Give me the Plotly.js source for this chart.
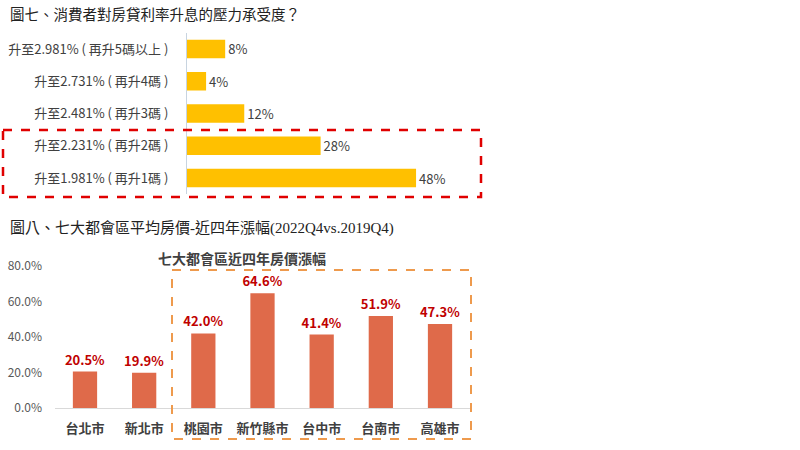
<!DOCTYPE html>
<html>
<head>
<meta charset="utf-8">
<script src="https://cdn.plot.ly/plotly-3.0.1.min.js"></script>
<style>html,body{margin:0;padding:0;background:#fff;}#chart{width:800px;height:450px;}</style>
</head>
<body>
<div id="chart"></div>
<script>
// Chart 1 (圖七)
const rateLabels = ['升至2.981% ( 再升5碼以上 )','升至2.731% ( 再升4碼 )','升至2.481% ( 再升3碼 )','升至2.231% ( 再升2碼 )','升至1.981% ( 再升1碼 )'];
const rateValues = [8, 4, 12, 28, 48];
// Chart 2 (圖八)
const cities = ['台北市','新北市','桃園市','新竹縣市','台中市','台南市','高雄市'];
const priceRise = [20.5, 19.9, 42.0, 64.6, 41.4, 51.9, 47.3];

const W = 800, H = 450;
const px = x => x / W, py = y => 1 - y / H;
const cjk = '"Noto Sans CJK TC", "Noto Sans", sans-serif';
const serif = '"Liberation Serif", "Noto Sans CJK TC", serif';

const traces = [
  {
    type: 'bar', orientation: 'h', x: rateValues, y: rateLabels,
    xaxis: 'x', yaxis: 'y', width: 0.57,
    marker: {color: '#FFC000'},
    text: rateValues.map(v => v + '%'), textposition: 'outside', constraintext: 'none',
    textfont: {family: cjk, size: 13, color: '#404040'},
    cliponaxis: false, hoverinfo: 'skip'
  },
  {
    type: 'bar', x: cities, y: priceRise,
    xaxis: 'x2', yaxis: 'y2', width: 0.41,
    marker: {color: '#DF6A4A'},
    texttemplate: '<b>%{y:.1f}%</b>', textposition: 'outside', constraintext: 'none',
    textfont: {family: cjk, size: 13, color: '#C00000'},
    cliponaxis: false, hoverinfo: 'skip'
  }
];

const layout = {
  width: W, height: H,
  margin: {l: 0, r: 0, t: 0, b: 0},
  paper_bgcolor: '#fff', plot_bgcolor: 'rgba(0,0,0,0)',
  showlegend: false,
  xaxis: {
    domain: [px(187), px(480)], range: [0, 61.4],
    visible: false, fixedrange: true
  },
  yaxis: {
    domain: [py(194.15), py(32.85)],
    type: 'category', categoryarray: rateLabels, autorange: 'reversed',
    showline: true, linecolor: '#C8D4E0', linewidth: 1,
    ticks: 'outside', ticklen: 15, tickcolor: 'rgba(0,0,0,0)',
    tickfont: {family: cjk, size: 13, color: '#404040'},
    showgrid: false, zeroline: false, fixedrange: true
  },
  xaxis2: {
    domain: [px(55.4), px(469.6)], anchor: 'y2',
    type: 'category',
    showline: true, linecolor: '#D9D9D9', linewidth: 1,
    ticks: 'outside', ticklen: 8, tickcolor: 'rgba(0,0,0,0)',
    tickfont: {family: cjk, size: 13, color: '#404040', weight: 'bold'},
    showgrid: false, zeroline: false, fixedrange: true
  },
  yaxis2: {
    domain: [py(408), py(266)], anchor: 'x2',
    range: [0, 80], dtick: 20, tickformat: '.1f', ticksuffix: '%',
    ticks: 'outside', ticklen: 10, tickcolor: 'rgba(0,0,0,0)',
    tickfont: {family: cjk, size: 12, color: '#595959'},
    showgrid: false, zeroline: false, showline: false, fixedrange: true
  },
  annotations: [
    {xref: 'paper', yref: 'paper', x: px(8), y: py(15), xanchor: 'left', yanchor: 'middle',
     text: '圖七、消費者對房貸利率升息的壓力承受度？', showarrow: false,
     font: {family: serif, size: 14.5, color: '#222'}},
    {xref: 'paper', yref: 'paper', x: px(8), y: py(228), xanchor: 'left', yanchor: 'middle',
     text: '圖八、七大都會區平均房價-近四年漲幅(2022Q4vs.2019Q4)', showarrow: false,
     font: {family: serif, size: 15, color: '#222'}},
    {xref: 'paper', yref: 'paper', x: px(242), y: py(258), xanchor: 'center', yanchor: 'middle',
     text: '<b>七大都會區近四年房價漲幅</b>', showarrow: false,
     font: {family: cjk, size: 14, color: '#404040'}}
  ],
  shapes: [
    {type: 'rect', xref: 'paper', yref: 'paper', x0: px(3), x1: px(481), y0: py(130), y1: py(197),
     line: {color: '#E00000', width: 2.5, dash: 'dash'}},
    {type: 'rect', xref: 'paper', yref: 'paper', x0: px(172), x1: px(471), y0: py(270), y1: py(439),
     line: {color: '#EE9A4D', width: 2, dash: 'dash'}}
  ]
};

Plotly.newPlot('chart', traces, layout, {displayModeBar: false, staticPlot: true});
</script>
</body>
</html>
